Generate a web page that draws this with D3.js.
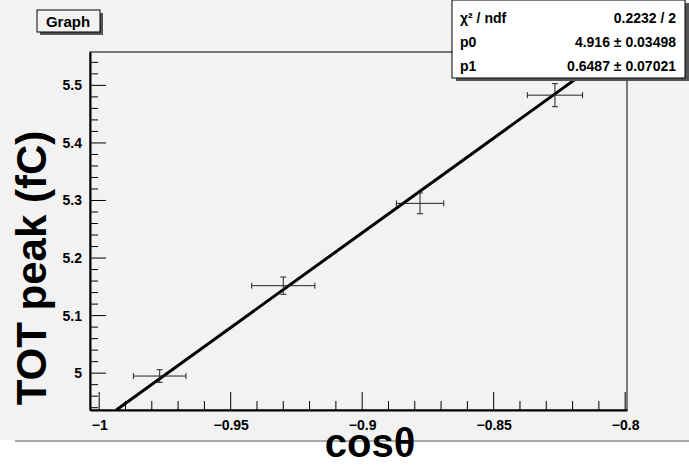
<!DOCTYPE html><html><head><script src="https://cdn.jsdelivr.net/npm/d3@7"></script>
<style>body{margin:0;background:#fff}text{font-family:"Liberation Sans",Arial,sans-serif}</style></head><body>
<svg id="c" width="689" height="467"></svg>
<script>
const xs=[-0.977,-0.930,-0.878,-0.8267];
const ys=[4.995,5.152,5.295,5.483];
const exs=[0.01,0.012,0.009,0.0105];
const eys=[0.011,0.015,0.018,0.02];
const xTicks=[-1,-0.95,-0.9,-0.85,-0.8];
const yTicks=[5,5.1,5.2,5.3,5.4,5.5];
const fitLine=[[-0.9935,4.936],[-0.79,5.606]];
const svg=d3.select("#c");
svg.append("rect").attr("x",0).attr("y",0).attr("width",689).attr("height",440).attr("fill","#f2f2f2");
svg.append("line").attr("x1",15).attr("x2",689).attr("y1",441).attr("y2",441).attr("stroke","#aaa").attr("stroke-width",2);
const L=90,R=627,T=52,B=410;
const x=d3.scaleLinear().domain([-1.0035,-0.7993]).range([L,R]);
const y=d3.scaleLinear().domain([4.936,5.558]).range([B,T]);
svg.append("defs").append("clipPath").attr("id","cp").append("rect").attr("x",L).attr("y",T).attr("width",R-L).attr("height",B-T);
svg.append("rect").attr("x",L).attr("y",T).attr("width",R-L).attr("height",B-T).attr("fill","none").attr("stroke","#000");
const ax=svg.append("g").attr("transform",`translate(0,${B})`).call(d3.axisBottom(x).tickValues(xTicks).tickSize(0).tickPadding(10).tickFormat(d3.format("")));
ax.select(".domain").attr("stroke-width",2);
ax.selectAll("text").attr("font-size",14).attr("font-weight","bold");
d3.range(-1,-0.7999,0.01).forEach(v=>{const big=Math.abs(Math.round(v*20)-v*20)<1e-6;svg.append("line").attr("x1",x(v)).attr("x2",x(v)).attr("y1",B).attr("y2",B-(big?18:9)).attr("stroke","#000");});
const ay=svg.append("g").attr("transform",`translate(${L},0)`).call(d3.axisLeft(y).tickValues(yTicks).tickSize(0).tickPadding(8).tickFormat(d3.format("")));
ay.select(".domain").attr("stroke-width",2);
ay.selectAll("text").attr("font-size",14).attr("font-weight","bold");
d3.range(4.94,5.56,0.02).forEach(v=>{const big=Math.abs(Math.round(v*10)-v*10)<1e-6;svg.append("line").attr("x1",L).attr("x2",L+(big?16:8)).attr("y1",y(v)).attr("y2",y(v)).attr("stroke","#000");});
const g=svg.append("g").attr("clip-path","url(#cp)");
g.append("line").attr("x1",x(fitLine[0][0])).attr("y1",y(fitLine[0][1])).attr("x2",x(fitLine[1][0])).attr("y2",y(fitLine[1][1])).attr("stroke","#000").attr("stroke-width",3);
xs.forEach((v,i)=>{
 const cx=x(v),cy=y(ys[i]);
 g.append("line").attr("x1",x(v-exs[i])).attr("x2",x(v+exs[i])).attr("y1",cy).attr("y2",cy).attr("stroke","#222");
 g.append("line").attr("x1",cx).attr("x2",cx).attr("y1",y(ys[i]-eys[i])).attr("y2",y(ys[i]+eys[i])).attr("stroke","#222");
 [x(v-exs[i]),x(v+exs[i])].forEach(e=>g.append("line").attr("x1",e).attr("x2",e).attr("y1",cy-3).attr("y2",cy+3).attr("stroke","#222"));
 [y(ys[i]-eys[i]),y(ys[i]+eys[i])].forEach(e=>g.append("line").attr("x1",cx-3).attr("x2",cx+3).attr("y1",e).attr("y2",e).attr("stroke","#222"));
});
svg.append("rect").attr("x",40).attr("y",13).attr("width",63).attr("height",22).attr("fill","#555");
svg.append("rect").attr("x",37).attr("y",10).attr("width",63).attr("height",22).attr("fill","#f2f2f2").attr("stroke","#000");
svg.append("text").attr("x",68).attr("y",27).attr("text-anchor","middle").attr("font-size",15).attr("font-weight","bold").text("Graph");
svg.append("rect").attr("x",552).attr("y",-6).attr("width",18).attr("height",12).attr("rx",4).attr("fill","#2233cc");
svg.append("rect").attr("x",456).attr("y",3).attr("width",233).attr("height",78).attr("fill","#555");
svg.append("rect").attr("x",452).attr("y",0).attr("width",233).attr("height",78).attr("fill","#fff").attr("stroke","#000");
const rows=[["χ² / ndf","0.2232 / 2"],["p0","4.916 ± 0.03498"],["p1","0.6487 ± 0.07021"]];
rows.forEach((r,i)=>{
 svg.append("text").attr("x",460).attr("y",23+i*24).attr("font-size",14).attr("font-weight","bold").text(r[0]);
 svg.append("text").attr("x",676).attr("y",23+i*24).attr("text-anchor","end").attr("font-size",14).attr("font-weight","bold").text(r[1]);
});
svg.append("text").attr("transform","translate(46,268) rotate(-90)").attr("text-anchor","middle").attr("font-size",42).attr("font-weight","bold").text("TOT peak (fC)");
svg.append("text").attr("x",370).attr("y",457).attr("text-anchor","middle").attr("font-size",40).attr("font-weight","bold").text("cosθ");
</script></body></html>
